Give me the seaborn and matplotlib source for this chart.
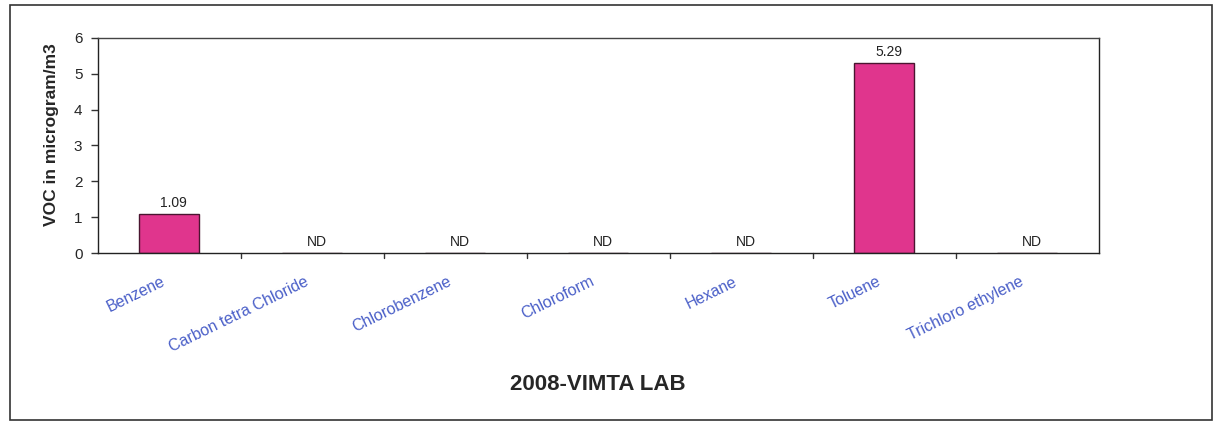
import matplotlib
matplotlib.use("Agg")
import matplotlib.pyplot as plt
import matplotlib.transforms as mtrans
import seaborn as sns
import pandas as pd
from matplotlib.patches import Rectangle

categories = ["Benzene", "Carbon tetra Chloride", "Chlorobenzene", "Chloroform",
              "Hexane", "Toluene", "Trichloro ethylene"]
values = [1.09, 0, 0, 0, 0, 5.29, 0]
bar_labels = ["1.09", "ND", "ND", "ND", "ND", "5.29", "ND"]
y_ticks = [0, 1, 2, 3, 4, 5, 6]

sns.set_theme(style="white")
plt.rcParams['font.family'] = ['Liberation Sans', 'DejaVu Sans']

df = pd.DataFrame({"cat": categories, "val": values})

fig = plt.figure(figsize=(12.21, 4.26), dpi=100)
ax = fig.add_axes([0.080, 0.406, 0.820, 0.505])

sns.barplot(data=df, x="cat", y="val", ax=ax, color="#E0358D", width=0.42,
            edgecolor="#4a1530", linewidth=1.0, saturation=1)

ax.set_ylim(0, 6)
ax.set_xlim(-0.5, len(categories) - 0.5)
ax.set_yticks(y_ticks)
ax.set_yticklabels([str(t) for t in y_ticks], fontsize=11)

for i, (v, lab) in enumerate(zip(values, bar_labels)):
    ax.annotate(lab, (i + 0.03, v), xytext=(0, 3), textcoords="offset points",
                ha="center", va="bottom", fontsize=10, color="#222222")

ax.set_xticks(range(len(categories)))
ax.set_xticklabels(categories, rotation=26, ha="right", rotation_mode="anchor",
                   fontsize=11.5, color="#4a5fc8")
ax.tick_params(axis="x", length=0, pad=15)
shift = mtrans.ScaledTranslation(-8 / 100, 0, fig.dpi_scale_trans)
for t in ax.get_xticklabels():
    t.set_transform(t.get_transform() + shift)
# category separator ticks (Excel style)
for b in [0.5 + k for k in range(len(categories) - 1)]:
    ax.plot([b, b], [0, -0.14], color="#333333", lw=1, clip_on=False,
            transform=ax.transData)
ax.tick_params(axis="y", length=5, width=1, color="#333333", direction="out",
               left=True, pad=6)

ax.set_xlabel("2008-VIMTA LAB", fontsize=16, fontweight="bold", labelpad=14)
ax.set_ylabel("VOC in microgram/m3", fontsize=12.5, fontweight="bold")
ax.yaxis.set_label_coords(-0.039, 0.55)

for s in ax.spines.values():
    s.set_visible(True)
    s.set_color("#222222")
    s.set_linewidth(1.0)
ax.spines["top"].set_color("#444444")

fig.patches.append(Rectangle((10 / 1221, 1 - 420 / 426), 1202 / 1221, 415 / 426,
                             transform=fig.transFigure, fill=False,
                             edgecolor="#333333", linewidth=1.2))

fig.savefig("out.png", dpi=100)
